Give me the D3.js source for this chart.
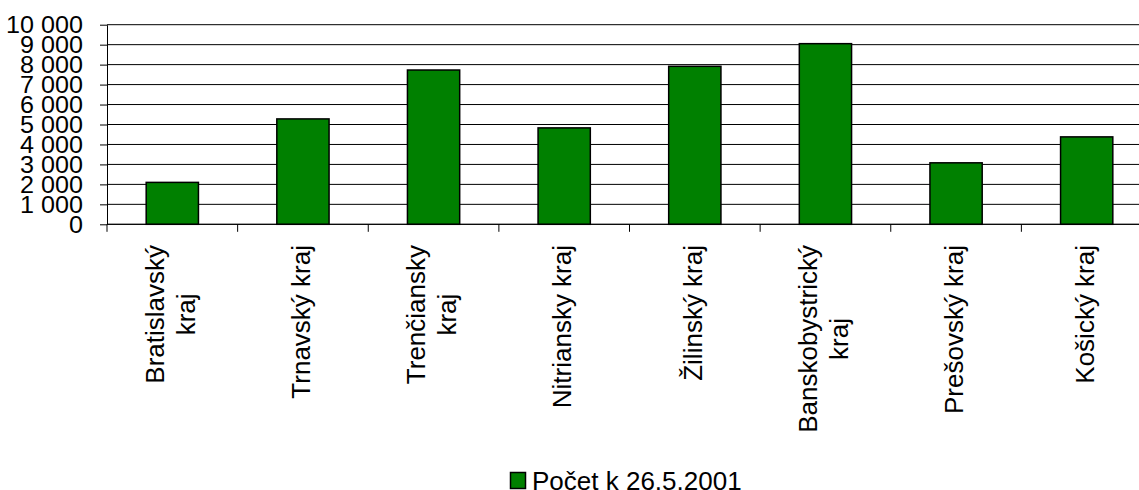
<!DOCTYPE html>
<html>
  <head>
    <meta charset="utf-8">
    <style>
    body { margin: 0; background: #fff; }
    #chart-area svg { display: block; }
    text { font-family: "Liberation Sans", Arial, sans-serif; fill: #000; }
    </style>
  </head>
  <body>
    <div id="chart-area"></div>

    <script src="https://cdnjs.cloudflare.com/ajax/libs/d3/7.8.5/d3.min.js"></script>
    <script>
      // data
      const regions = [
        ["Bratislavský", "kraj"],
        ["Trnavský kraj"],
        ["Trenčiansky", "kraj"],
        ["Nitriansky kraj"],
        ["Žilinský kraj"],
        ["Banskobystrický", "kraj"],
        ["Prešovský kraj"],
        ["Košický kraj"]
      ];
      const counts = [2100, 5280, 7730, 4830, 7915, 9050, 3080, 4380];
      const yTicks = [0, 1000, 2000, 3000, 4000, 5000, 6000, 7000, 8000, 9000, 10000];
      const seriesName = "Počet k 26.5.2001";

      const width = 1139;
      const height = 490;
      const plotLeft = 107, plotRight = 1152, plotTop = 24.7, plotBottom = 224.3;
      const green = "#008000";

      const svg = d3.select("#chart-area")
        .append("svg")
          .attr("width", width)
          .attr("height", height);

      const keys = regions.map(d => d.join(" "));

      const x = d3.scaleBand()
        .domain(keys)
        .range([plotLeft, plotRight])
        .paddingInner(0.6)
        .paddingOuter(0.3);

      const y = d3.scaleLinear()
        .domain([0, 10000])
        .range([plotBottom, plotTop]);

      const fmt = v => d3.format(",")(v).replace(/,/g, " ");

      // gridlines
      svg.append("g")
        .selectAll("line")
        .data(yTicks)
        .enter().append("line")
          .attr("x1", plotLeft)
          .attr("x2", plotRight)
          .attr("y1", d => y(d))
          .attr("y2", d => y(d))
          .attr("stroke", "#000")
          .attr("stroke-width", 1);

      // y axis
      const yAxis = svg.append("g")
        .attr("transform", `translate(${plotLeft},0)`)
        .call(d3.axisLeft(y).tickValues(yTicks).tickSize(7).tickSizeOuter(0).tickFormat(""));
      yAxis.select(".domain").attr("stroke", "#000");
      yAxis.selectAll(".tick line").attr("stroke", "#000");

      svg.append("g")
        .selectAll("text")
        .data(yTicks)
        .enter().append("text")
          .attr("transform", d => `translate(83,${y(d) + 8.3}) scale(1.08,1)`)
          .attr("text-anchor", "end")
          .style("font-size", "23.3px")
          .text(fmt);

      // bars
      svg.append("g")
        .selectAll("rect")
        .data(counts)
        .enter().append("rect")
          .attr("x", (d, i) => x(keys[i]))
          .attr("y", d => y(d))
          .attr("width", x.bandwidth())
          .attr("height", d => y(0) - y(d))
          .attr("fill", green)
          .attr("stroke", "#000")
          .attr("stroke-width", 1.5);

      // x axis with ticks between categories
      const step = x.step();
      const bounds = d3.range(keys.length + 1).map(k => plotLeft + k * step);
      svg.append("line")
        .attr("x1", plotLeft).attr("x2", plotRight)
        .attr("y1", plotBottom).attr("y2", plotBottom)
        .attr("stroke", "#000");
      svg.append("g")
        .selectAll("line")
        .data(bounds)
        .enter().append("line")
          .attr("x1", d => d).attr("x2", d => d)
          .attr("y1", plotBottom).attr("y2", plotBottom + 7.5)
          .attr("stroke", "#000");

      // rotated category labels
      const labelTop = 245;
      const lineGap = 31;
      regions.forEach((lines, i) => {
        const cx = x(keys[i]) + x.bandwidth() / 2 + 7;
        const g = svg.append("g");
        const texts = lines.map((ln, j) => {
          const off = (j - (lines.length - 1) / 2) * lineGap;
          return g.append("text")
            .attr("text-anchor", "middle")
            .style("font-size", "26px")
            .attr("data-x", cx + off)
            .text(ln);
        });
        const maxLen = d3.max(texts, t => t.node().getComputedTextLength());
        texts.forEach(t => {
          t.attr("transform", `translate(${t.attr("data-x")},${labelTop + maxLen / 2}) rotate(-90)`);
        });
      });

      // legend
      const legend = svg.append("g");
      legend.append("rect")
        .attr("x", 510.5).attr("y", 472.5)
        .attr("width", 15).attr("height", 16)
        .attr("fill", green)
        .attr("stroke", "#000")
        .attr("stroke-width", 1.5);
      legend.append("text")
        .attr("x", 532)
        .attr("y", 490)
        .style("font-size", "26px")
        .text(seriesName);
    </script>
  </body>
</html>
